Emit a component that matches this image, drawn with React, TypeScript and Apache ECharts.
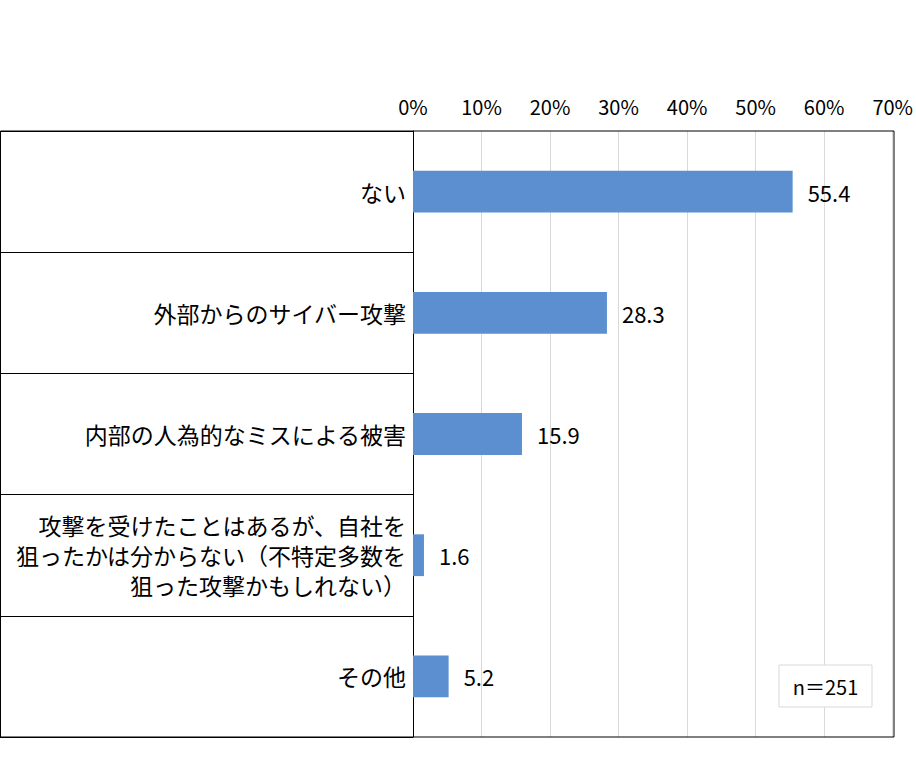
import React, { useEffect, useRef } from "react";
import * as echarts from "echarts";

const FONT = '"Noto Sans CJK JP", "Noto Sans", sans-serif';

const categories = [
  "ない",
  "外部からのサイバー攻撃",
  "内部の人為的なミスによる被害",
  "攻撃を受けたことはあるが、自社を\n狙ったかは分からない（不特定多数を\n狙った攻撃かもしれない）",
  "その他",
];
const values = [55.4, 28.3, 15.9, 1.6, 5.2];
const axisMin = 0;
const axisMax = 70;
const axisStep = 10;
const sampleNote = "n＝251";

const GRID = { left: 413, right: 22, top: 131, bottom: 23 };
const W = 916;
const H = 760;

export default function App() {
  const ref = useRef<HTMLDivElement>(null);
  useEffect(() => {
    document.body.style.margin = "0";
    const chart = echarts.init(ref.current as HTMLDivElement, null, { renderer: "svg" });
    const plotRight = W - GRID.right;
    const plotBottom = H - GRID.bottom;
    chart.setOption({
      animation: false,
      textStyle: { fontFamily: FONT },
      grid: { ...GRID, containLabel: false },
      xAxis: {
        type: "value",
        position: "top",
        min: axisMin,
        max: axisMax,
        interval: axisStep,
        axisLine: { show: false },
        axisTick: { show: false },
        axisLabel: { formatter: "{value}%", fontSize: 20, color: "#000", margin: 15, fontFamily: FONT },
        splitLine: { show: true, lineStyle: { color: "#d9d9d9", width: 1 } },
      },
      yAxis: {
        type: "category",
        inverse: true,
        data: categories.map((c, i) =>
          c.indexOf("\n") >= 0 ? { value: c, textStyle: { padding: [4, 0, 0, 0] } } : c
        ),
        axisLine: { show: true, lineStyle: { color: "#000", width: 1 } },
        axisTick: { show: true, length: GRID.left, lineStyle: { color: "#000", width: 1 } },
        axisLabel: { fontSize: 23, color: "#000", margin: 7, lineHeight: 30, fontFamily: FONT },
        splitLine: { show: false },
      },
      series: [
        {
          type: "bar",
          data: values,
          barWidth: "34.5%",
          itemStyle: { color: "#5B8FCF" },
          label: {
            show: true,
            position: "right",
            distance: 15,
            fontSize: 22,
            color: "#000",
            fontFamily: FONT,
            formatter: (p: any) => Number(p.value).toFixed(1),
          },
        },
      ],
      graphic: [
        {
          type: "rect",
          silent: true,
          z: 100,
          shape: { x: 0.5, y: GRID.top, width: plotRight - 0.5, height: plotBottom - GRID.top },
          style: { fill: "none", stroke: "#000", lineWidth: 1 },
        },
        {
          type: "rect",
          silent: true,
          z: 100,
          shape: { x: 779, y: 665, width: 93, height: 42 },
          style: { fill: "#fff", stroke: "#d9d9d9", lineWidth: 1 },
        },
        {
          type: "text",
          silent: true,
          z: 101,
          style: {
            text: sampleNote,
            x: 825.5,
            y: 686,
            align: "center",
            verticalAlign: "middle",
            fontSize: 20,
            fontFamily: FONT,
            fill: "#000",
          },
        },
      ],
    });
    return () => chart.dispose();
  }, []);
  return <div ref={ref} style={{ width: W, height: H }} />;
}
